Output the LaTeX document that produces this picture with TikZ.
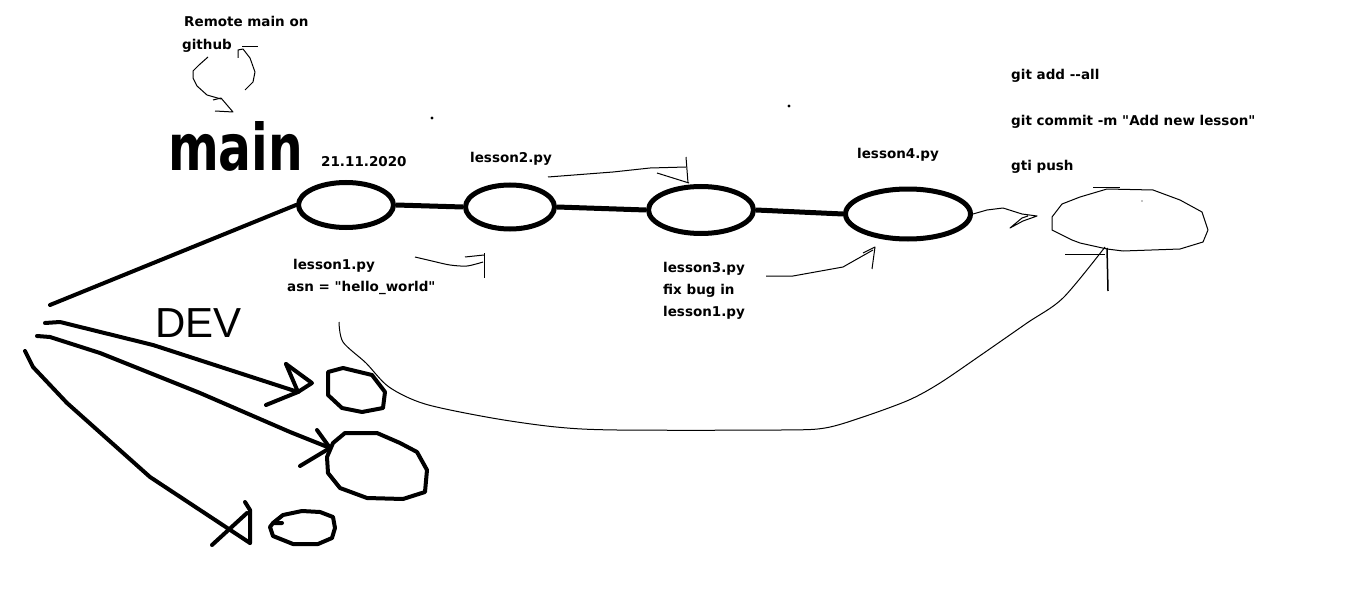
\documentclass[tikz,border=0pt]{standalone}
\usepackage{fontspec}
\setmainfont{DejaVu Sans}
\newfontfamily\labelfont{DejaVu Sans}
\newfontfamily\handfont{Liberation Sans}
\usetikzlibrary{shapes.geometric}
\begin{document}
\begin{tikzpicture}[x=1pt,y=-1pt,
  commit/.style={draw, ellipse, line width=5pt, inner sep=0pt},
  bar/.style={line width=5pt},
  hand/.style={line width=4pt, line join=round, line cap=round},
  fine/.style={line width=1pt, line join=round},
  lbl/.style={font=\labelfont\bfseries\fontsize{13.5}{15}\selectfont, anchor=base west, inner sep=0pt}]
\useasboundingbox[fill=white] (0,0) rectangle (1360,599);

% ---- texts
\node[lbl] (remote) at (184,27) {Remote main on};
\node[lbl] (github) at (182,50) {github};
\node[anchor=base west, inner sep=0pt] (main) at (168,171) {\resizebox{135pt}{49pt}{\labelfont\bfseries main}};
\node[lbl] (date) at (321,167) {21.11.2020};
\node[lbl] (l2) at (470,162) {lesson2.py};
\node[lbl] (l4) at (857,159) {lesson4.py};
\node[lbl] (l1) at (293,269) {lesson1.py};
\node[lbl] (asn) at (287,291) {asn = "hello\_world"};
\node[lbl] (l3a) at (663,272) {lesson3.py};
\node[lbl] (l3b) at (663,294) {fix bug in};
\node[lbl] (l3c) at (663,316) {lesson1.py};
\node[lbl] (gadd) at (1011,80) {git add --all};
\node[lbl] (gcom) at (1011,126) {git commit -m "Add new lesson"};
\node[lbl] (gpush) at (1011,171) {gti push};
\node[anchor=base west, inner sep=0pt, font=\handfont\fontsize{42}{44}\selectfont] (dev) at (155,337) {DEV};

% ---- commits
\node[commit, minimum width=95pt, minimum height=45pt] (c1) at (346,205) {};
\node[commit, minimum width=89pt, minimum height=44pt] (c2) at (510,207) {};
\node[commit, minimum width=105pt, minimum height=47pt] (c3) at (701,210) {};
\node[commit, minimum width=125pt, minimum height=50pt] (c4) at (908,214) {};
\draw[bar] (c1.east) -- (c2.west);
\draw[bar] (c2.east) -- (c3.west);
\draw[bar] (c3.east) -- (c4.west);
\coordinate (branch) at (50,305);
\draw[hand] (c1.west) -- (branch);

% ---- dots
\fill (432,118) circle (1.6);
\fill (789,106) circle (1.6);

% ---- github curly arrows
\draw[fine] (245,90) -- (253,82) -- (255,72) -- (250,58) -- (243,49) -- (238,50) -- (238,58);
\draw[fine] (242,47) -- (258,47);
\draw[fine] (208,57) -- (199,65) -- (193,71) -- (193,78) -- (197,86) -- (207,95) -- (221,99);
\draw[fine] (213,100) -- (221,98) -- (233,112) -- (215,111);

% ---- small arrows between commits
\draw[fine] plot[smooth] coordinates {(415,257) (432,261) (450,265) (467,266) (483,262)};
\draw[fine] (465,257) -- (484,255);
\draw[fine] (484,253) -- (484,278);

\draw[fine] (548,177) -- (613,172) -- (650,168) -- (686,167);
\draw[fine] (686,157) -- (688,183);
\draw[fine] (657,173) -- (689,183);

\draw[fine] (766,276) -- (793,276) -- (843,267) -- (873,250);
\draw[fine] (863,253) -- (875,247) -- (872,269);

\draw[fine] (c4.east) -- (987,210) -- (1003,208) -- (1022,214);
\draw[fine] (1022,214) -- (1037,216) -- (1023,221) -- (1010,228) -- (1022,218) -- (1028,216);

% ---- remote cloud
\draw[fine] (1052,217) -- (1062,204) -- (1080,197) -- (1107,189) -- (1153,190) -- (1180,200) -- (1202,212) -- (1208,230) -- (1203,242) -- (1180,249) -- (1123,251) -- (1107,249) -- (1080,243) -- (1072,240) -- (1052,230) -- cycle;
\draw[fine] (1093,187) -- (1120,187);
\fill (1142,201) circle (0.6);
\coordinate (cloudin) at (1105,247);

% ---- big curve to the remote
\draw[fine] plot[smooth, tension=0.5] coordinates {(339,322) (343,342) (366,363) (389,387) (425,404) (492,418) (556,427) (617,430) (781,430) (825,428) (863,417) (909,400) (940,383) (981,355) (1027,323) (1063,298) (cloudin)};
\draw[fine] (1065,254) -- (1105,254);
\draw[line width=1.5pt] (1107,248) -- (1108,291);

% ---- dev branches
\draw[hand] (45,323) -- (60,322) -- (153,345) -- (298,392);
\draw[hand] (286,364) -- (298,392);
\draw[hand] (286,364) -- (312,383) -- (298,392) -- (266,405);

\draw[hand] (37,336) -- (50,337) -- (100,353) -- (200,393) -- (290,432) -- (330,448);
\draw[hand] (317,430) -- (330,448);
\draw[hand] (300,466) -- (330,448);

\draw[hand] (25,351) -- (33,367) -- (67,403) -- (150,477) -- (250,543);
\draw[hand] (245,502) -- (250,510) -- (250,543);
\draw[hand] (212,545) -- (247,513);

% ---- dev commits
\draw[hand] (328,372) -- (343,368) -- (372,375) -- (385,392) -- (383,408) -- (362,412) -- (342,408) -- (328,395) -- cycle;
\draw[hand] (345,433) -- (377,433) -- (400,443) -- (417,452) -- (427,470) -- (425,492) -- (403,499) -- (367,498) -- (340,488) -- (328,473) -- (327,457) -- (333,443) -- cycle;
\draw[hand] (282,523) -- (273,523) -- (283,515) -- (302,511) -- (320,512) -- (333,517) -- (335,528) -- (332,538) -- (318,544) -- (293,544) -- (273,536) -- (270,527) -- (273,523);
\end{tikzpicture}
\end{document}
